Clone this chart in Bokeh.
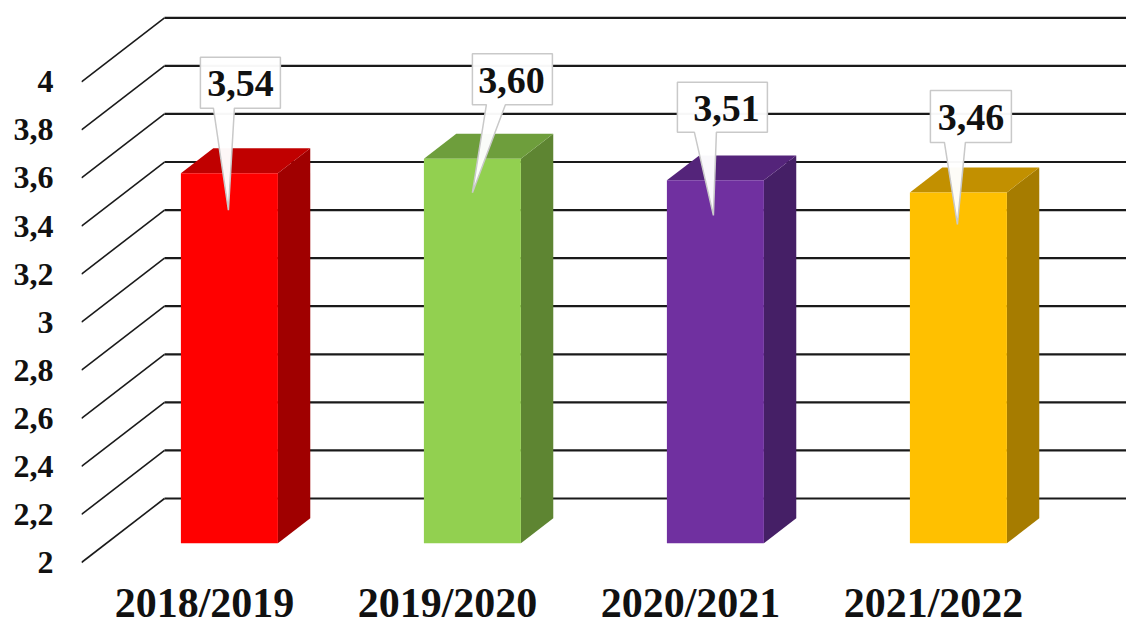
from bokeh.embed import file_html
from bokeh.resources import INLINE
from bokeh.plotting import figure
from bokeh.models import FixedTicker, Range1d
from bokeh.core.properties import value

# ---- data ----
categories = ["2018/2019", "2019/2020", "2020/2021", "2021/2022"]
scores = [3.54, 3.60, 3.51, 3.46]
score_labels = ["3,54", "3,60", "3,51", "3,46"]
tick_values = [2, 2.2, 2.4, 2.6, 2.8, 3, 3.2, 3.4, 3.6, 3.8, 4]
tick_labels = ["2", "2,2", "2,4", "2,6", "2,8", "3", "3,2", "3,4", "3,6", "3,8", "4"]

# ---- styling ----
front_colors = ["#FF0000", "#92D050", "#7030A0", "#FFC000"]
top_colors = ["#C00000", "#6E9E3C", "#54247A", "#C29000"]
side_colors = ["#A00000", "#5E8532", "#451F66", "#A67C00"]
FONT = "Liberation Serif"

# ---- layout (pixels) ----
W, H = 1126, 628
PAD_L, PAD_B = 81, 58           # room for the axes
PX_PER_CAT = 243.0
PX_PER_UNIT = 240.35
CAT0_PX = 204.0                 # category 0, inside the figure
FRAME_L = PAD_L
FRAME_W = W - PAD_L
FRAME_H = H - PAD_B
Y0_FROM_BOTTOM = 8.0            # value 2 sits this far above the frame bottom
DEPTH_X, DEPTH_Y = 83.0, 64.0   # offset from front wall to back wall
BAR_HALF = 48.5
BAR_D0, BAR_D1 = 0.30, 0.69     # bar front and back faces as share of depth

x_start = (FRAME_L - CAT0_PX) / PX_PER_CAT
x_end = x_start + FRAME_W / PX_PER_CAT
y_start = 2 - Y0_FROM_BOTTOM / PX_PER_UNIT
y_end = y_start + FRAME_H / PX_PER_UNIT


def dx(px):
    return px / PX_PER_CAT


def dy(px):
    return px / PX_PER_UNIT


def proj(cat, val, depth=0.0):
    """Place a point of the 3D box: category, value, depth (0 front wall, 1 back wall)."""
    return cat + dx(depth * DEPTH_X), val + dy(depth * DEPTH_Y)


p = figure(width=W, height=H, output_backend="svg", toolbar_location=None,
           x_range=Range1d(x_start, x_end), y_range=Range1d(y_start, y_end),
           min_border_left=PAD_L, min_border_right=0, min_border_top=0,
           min_border_bottom=PAD_B, background_fill_color="white",
           border_fill_color="white", outline_line_color=None)
p.grid.visible = False

# axes
p.yaxis.ticker = FixedTicker(ticks=tick_values)
p.yaxis.major_label_overrides = dict(zip(tick_values, tick_labels))
p.yaxis.axis_line_color = None
p.yaxis.major_tick_line_color = None
p.yaxis.minor_tick_line_color = None
p.yaxis.major_tick_out = 0
p.yaxis.major_label_standoff = 28
p.yaxis.major_label_text_font = FONT
p.yaxis.major_label_text_font_style = "bold"
p.yaxis.major_label_text_font_size = "32px"
p.yaxis.major_label_text_color = "#111111"

p.xaxis.ticker = FixedTicker(ticks=list(range(len(categories))))
p.xaxis.major_label_overrides = dict(enumerate(categories))
p.xaxis.axis_line_color = None
p.xaxis.major_tick_line_color = None
p.xaxis.minor_tick_line_color = None
p.xaxis.major_tick_out = 0
p.xaxis.major_label_standoff = 9
p.xaxis.major_label_text_font = FONT
p.xaxis.major_label_text_font_style = "bold"
p.xaxis.major_label_text_font_size = "42px"
p.xaxis.major_label_text_color = "#111111"

# wall and floor lines
wall_x0 = x_start
side_xs, side_ys, back_xs, back_ys = [], [], [], []
for t in tick_values:
    bx, by = wall_x0 + dx(DEPTH_X), t + dy(DEPTH_Y)
    side_xs.append([wall_x0, bx])
    side_ys.append([t, by])
    back_xs.append([bx, x_end])
    back_ys.append([by, by])
p.multi_line(side_xs, side_ys, line_color="#1a1a1a", line_width=1.6)
p.multi_line(back_xs, back_ys, line_color="#1a1a1a", line_width=2.2)

# bars
for i, v in enumerate(scores):
    h = dx(BAR_HALF)
    xl, yb = proj(i - h, 2, BAR_D0)
    xr, yt = proj(i + h, v, BAR_D0)
    xl2, yb2 = proj(i - h, 2, BAR_D1)
    xr2, yt2 = proj(i + h, v, BAR_D1)
    p.patch([xr, xr2, xr2, xr], [yb, yb2, yt2, yt], fill_color=side_colors[i], line_color=None)
    p.patch([xl, xr, xr2, xl2], [yt, yt, yt2, yt2], fill_color=top_colors[i], line_color=None)
    p.patch([xl, xr, xr, xl], [yb, yb, yt, yt], fill_color=front_colors[i], line_color=None)

# callouts: pixel offsets from the bar's top-centre point
tip_dx = [-1, 0, -2, -1]
tip_down = [37, 34, 35, 32]
box_left = [-28, 0, -36, -27]
box_right = [52, 80, 54, 54]
box_top = [116, 105, 98, 102]     # box top above the bar top
box_bottom = [65, 54, 48, 50]     # box bottom above the bar top
base_left = [-15, 14, -19, -13]
base_right = [6, 33, 3, 8]
text_dx = [0, -1, 4, 0]
text_nudge = [1, 1, 1, 1]

for i, v in enumerate(scores):
    cx, top = proj(i, v, BAR_D0)
    tipx = cx + dx(tip_dx[i])
    x0, x1 = tipx + dx(box_left[i]), tipx + dx(box_right[i])
    b0, b1 = tipx + dx(base_left[i]), tipx + dx(base_right[i])
    yt = top + dy(box_top[i])
    yb = top + dy(box_bottom[i])
    tipy = top - dy(tip_down[i])
    p.patch([x0, x1, x1, b1, tipx, b0, x0], [yt, yt, yb, yb, tipy, yb, yb],
            fill_color="white", fill_alpha=0.97, line_color="#C9C9C9", line_width=1.5)
    p.text([(x0 + x1) / 2 + dx(text_dx[i])], [(yt + yb) / 2 - dy(text_nudge[i])],
           text=[score_labels[i]],
           text_font=value(FONT), text_font_style="bold", text_font_size="38px",
           text_color="#111111", text_align="center", text_baseline="middle")

open("out.html", "w").write(file_html(p, INLINE))
